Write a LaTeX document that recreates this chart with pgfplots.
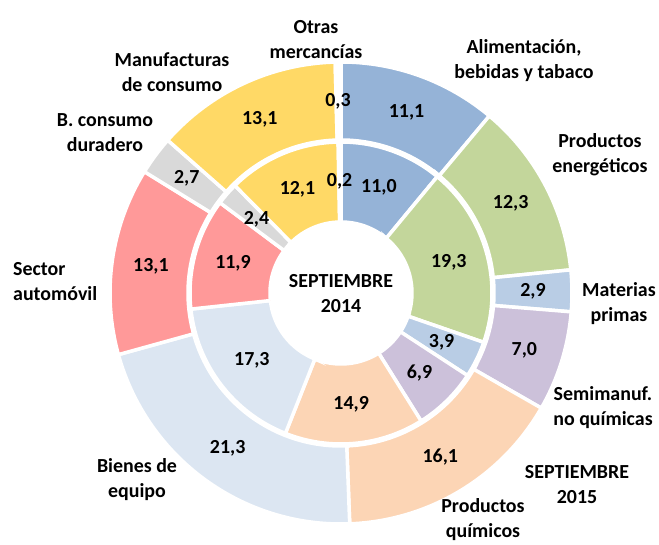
\documentclass[border=0pt]{standalone}
\usepackage{pgfplots}
\pgfplotsset{compat=1.18}
\usepackage{fontspec}
\setmainfont{Carlito}

\definecolor{cAli}{HTML}{95B3D7}
\definecolor{cEne}{HTML}{C3D69B}
\definecolor{cMat}{HTML}{B9CDE5}
\definecolor{cSem}{HTML}{CCC1DA}
\definecolor{cQui}{HTML}{FCD5B5}
\definecolor{cBie}{HTML}{DCE6F2}
\definecolor{cAut}{HTML}{FF9999}
\definecolor{cDur}{HTML}{D9D9D9}
\definecolor{cMan}{HTML}{FFD966}

% shares in %, clockwise from 12 o'clock
\def\sepQuince{11.1/cAli, 12.3/cEne, 2.9/cMat, 7.0/cSem, 16.1/cQui, 21.3/cBie, 13.1/cAut, 2.7/cDur, 13.1/cMan, 0.3/white}
\def\sepCatorce{11.0/cAli, 19.3/cEne, 3.9/cMat, 6.9/cSem, 14.9/cQui, 17.3/cBie, 11.9/cAut, 2.4/cDur, 12.1/cMan, 0.2/white}

\def\cx{341}\def\cy{252}
\newcommand\txt{\bfseries\fontsize{20}{25}\selectfont}

% #1 data, #2 inner radius, #3 outer radius
\newcommand\ring[3]{%
  \gdef\acc{0}%
  \foreach \v/\c in #1 {%
    \pgfmathsetmacro\aA{90-3.6*\acc}%
    \pgfmathsetmacro\aB{90-3.6*(\acc+\v)}%
    \edef\temp{\noexpand\fill[\c, draw=white, line width=3.5bp]
      (axis cs:{\cx+#2*cos(\aA)},{\cy+#2*sin(\aA)}) --
      (axis cs:{\cx+#3*cos(\aA)},{\cy+#3*sin(\aA)})
      arc[start angle=\aA, end angle=\aB, radius=#3bp] --
      (axis cs:{\cx+#2*cos(\aB)},{\cy+#2*sin(\aB)})
      arc[start angle=\aB, end angle=\aA, radius=#2bp] -- cycle;}%
    \temp
    \pgfmathsetmacro\accnew{\acc+\v}\global\let\acc\accnew
  }}

% #1 data, #2 label radius
\newcommand\ringlabels[2]{%
  \gdef\acc{0}%
  \foreach \v/\c in #1 {%
    \pgfmathsetmacro\am{90-3.6*(\acc+\v/2)}%
    \edef\temp{\noexpand\node[font=\noexpand\txt]
      at (axis cs:{\cx+#2*cos(\am)},{\cy+#2*sin(\am)})
      {\noexpand\pgfmathprintnumber[fixed,fixed zerofill,precision=1,use comma,assume math mode=true]{\v}};}%
    \temp
    \pgfmathsetmacro\accnew{\acc+\v}\global\let\acc\accnew
  }}

\begin{document}
\begin{tikzpicture}
\begin{axis}[
  hide axis, x=1bp, y=1bp, xmin=0, xmax=659, ymin=0, ymax=545, clip=false,
]
\path (axis cs:0,0) rectangle (axis cs:659,545);
\ring{\sepQuince}{153}{231}
\ring{\sepCatorce}{71}{151}
\ringlabels{\sepQuince}{192}
\ringlabels{\sepCatorce}{112}

\begin{scope}[every node/.style={font=\txt, align=center, inner sep=0pt}]
\node at (axis cs:341,251.5) {SEPTIEMBRE\\2014};
\node at (axis cs:577,60.5) {SEPTIEMBRE\\2015};
\node at (axis cs:316,505.5) {Otras\\mercancías};
\node at (axis cs:524,484.5) {Alimentación,\\bebidas y tabaco};
\node at (axis cs:600,390.5) {Productos\\energéticos};
\node at (axis cs:619,241.5) {Materias\\primas};
\node at (axis cs:603,137.5) {Semimanuf.\\no químicas};
\node at (axis cs:483,25) {Productos\\químicos};
\node at (axis cs:137,65.5) {Bienes de\\equipo};
\node[anchor=west, align=left] at (axis cs:13,263.5) {Sector\\automóvil};
\node at (axis cs:105,412.5) {B. consumo\\duradero};
\node at (axis cs:172,472.5) {Manufacturas\\de consumo};
\end{scope}
\end{axis}
\end{tikzpicture}
\end{document}
